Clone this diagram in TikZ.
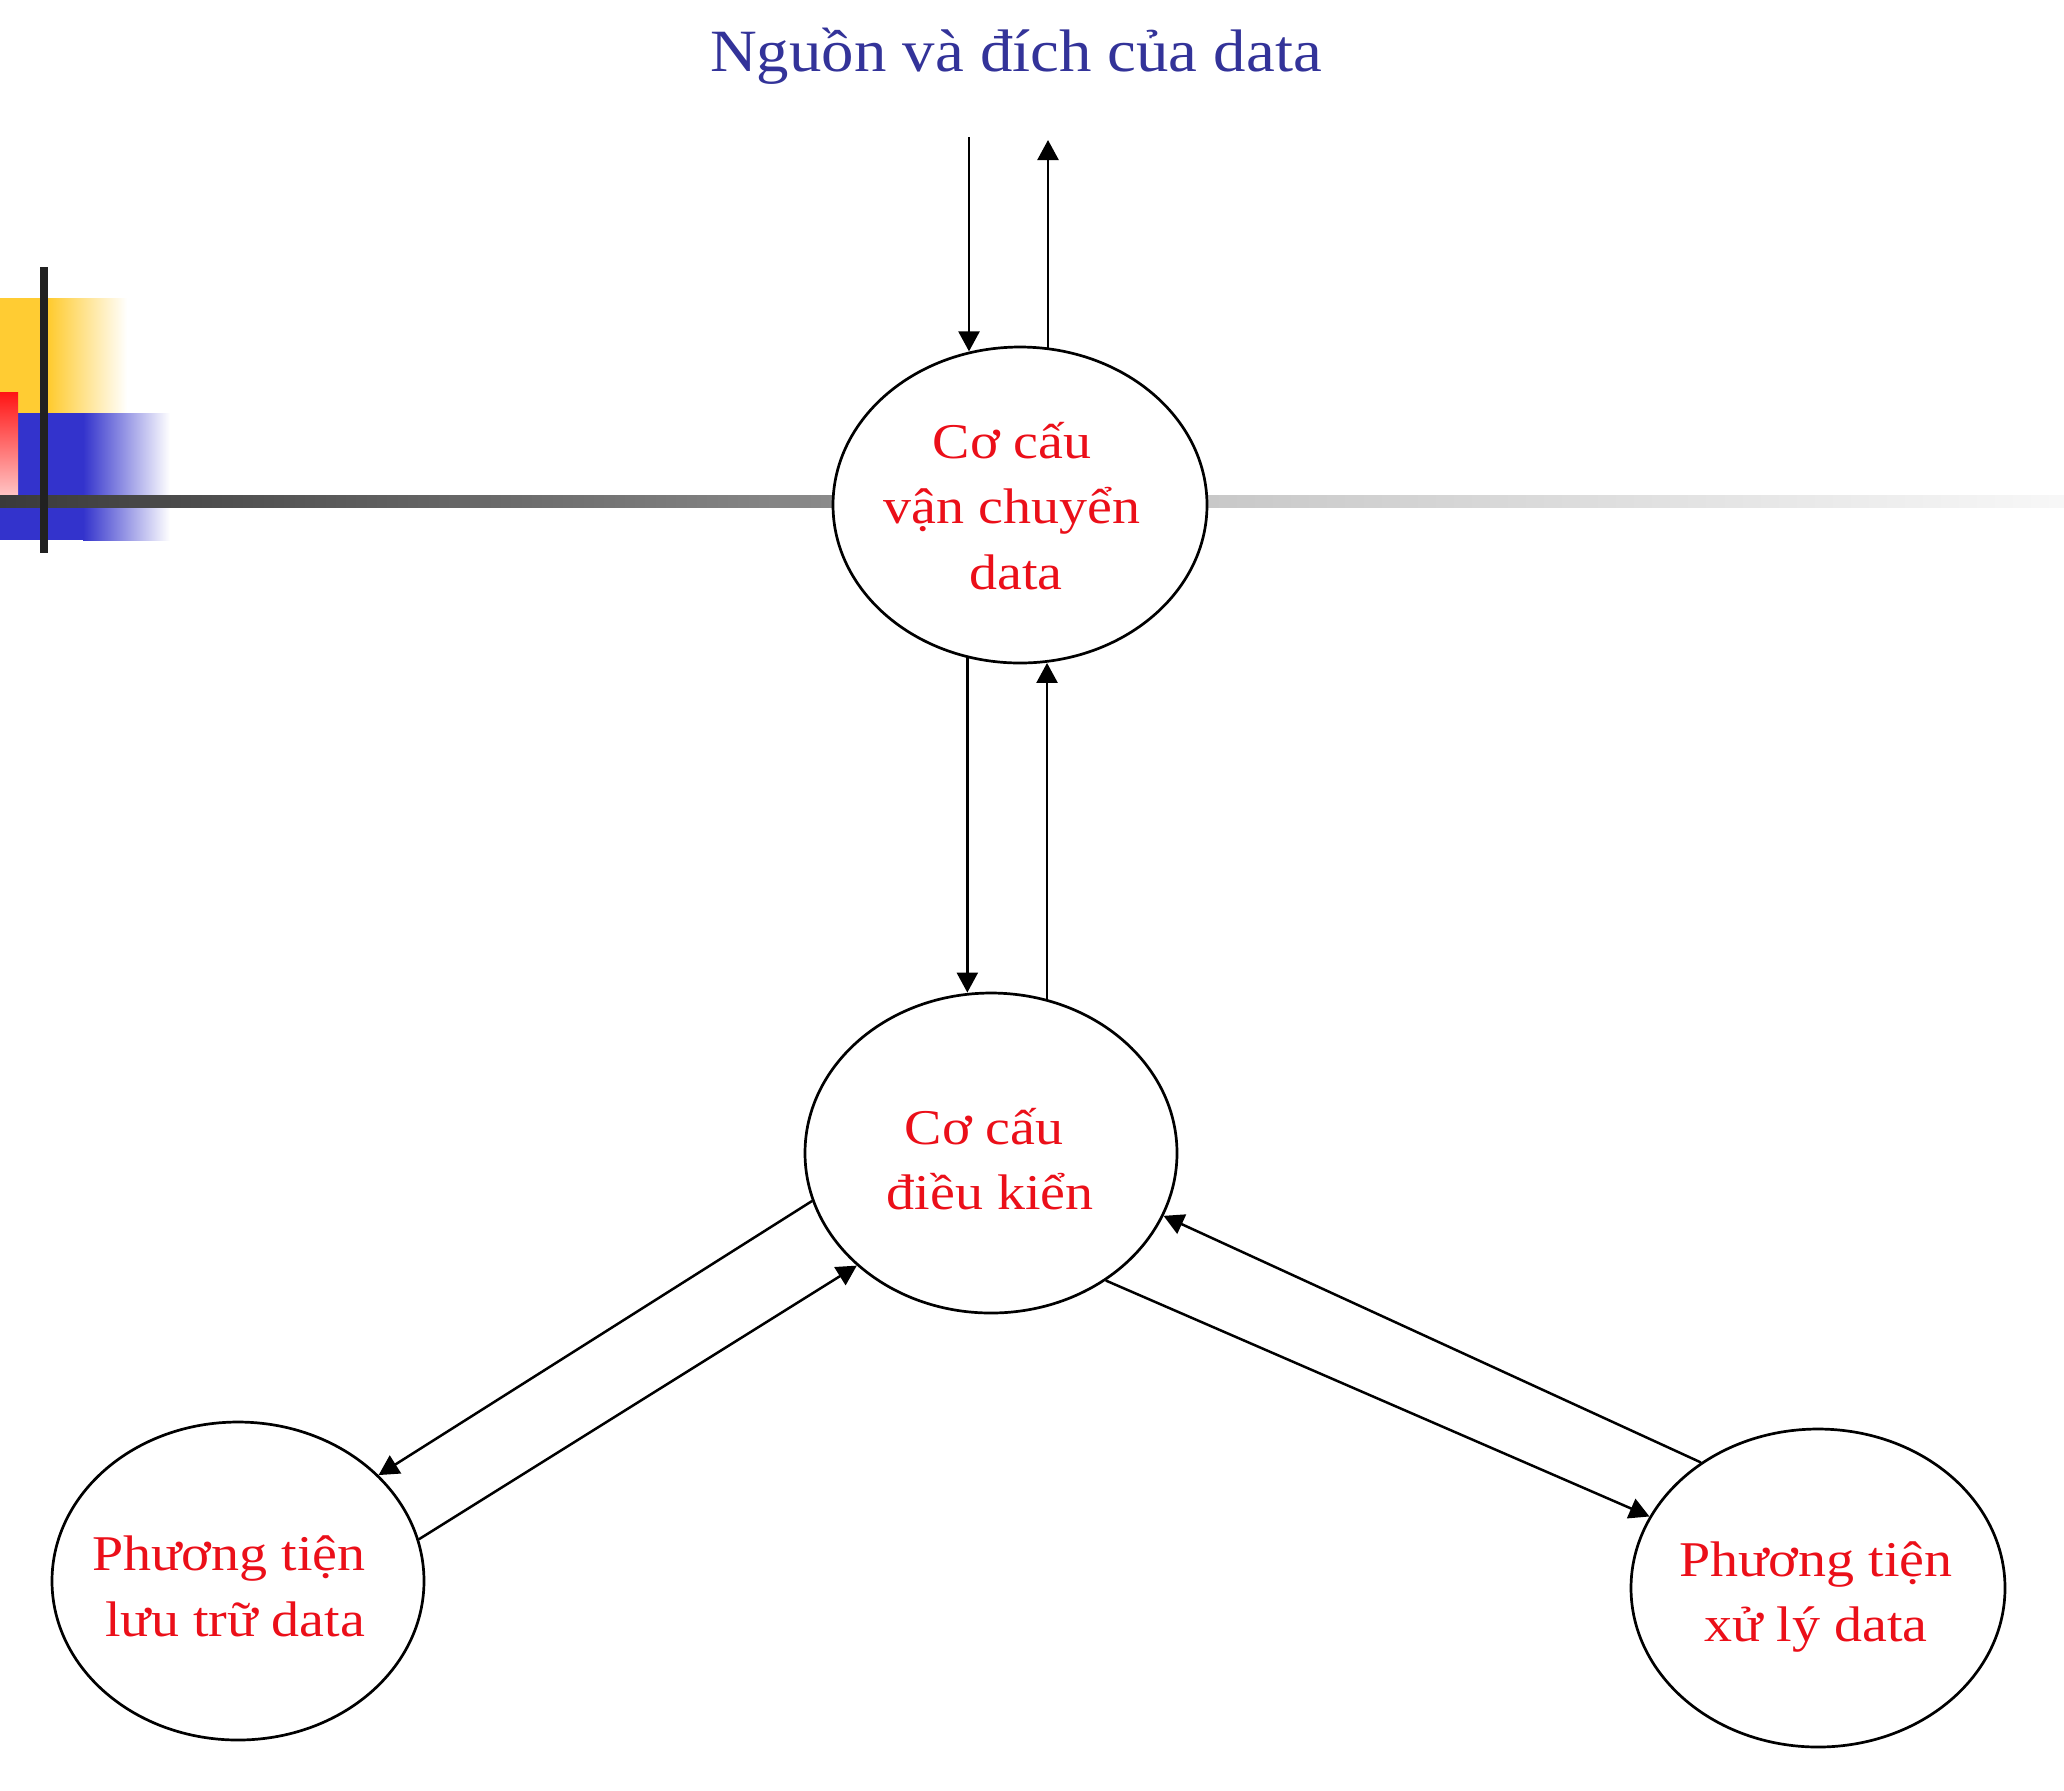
\documentclass[tikz,border=0pt]{standalone}
\usepackage{fontspec}
\setmainfont{Liberation Serif}
\newfontfamily\nodefont{Liberation Serif}[FakeStretch=1.12]
\newfontfamily\titlefont{Liberation Serif}[FakeStretch=1.08]
\usetikzlibrary{shapes.geometric,arrows.meta,calc}
\definecolor{titleblue}{RGB}{51,51,153}
\definecolor{txtred}{RGB}{235,15,25}
\definecolor{decoyellow}{RGB}{255,204,51}
\definecolor{decoblue}{RGB}{51,51,204}
\definecolor{decored}{RGB}{255,20,20}
\definecolor{barA}{RGB}{58,58,58}
\definecolor{barB}{RGB}{138,138,138}
\definecolor{barC}{RGB}{200,200,200}
\pgfdeclarehorizontalshading{barshade}{100bp}{color(0bp)=(barA); color(25bp)=(barA); color(45bp)=(barB); color(54.3bp)=(barC); color(75bp)=(white!97!black); color(100bp)=(white)}
\tikzset{
  ell/.style={ellipse, draw=black, fill=white, line width=1.35pt,
    minimum width=187pt, minimum height=159pt, inner sep=0pt},
  arr/.style={-{Triangle[length=10pt,width=10.5pt]}, line width=1.25pt},
  txt/.style={font=\nodefont\fontsize{25pt}{30pt}\selectfont, text=txtred, anchor=base, inner sep=0pt},
  ttl/.style={font=\titlefont\fontsize{30pt}{36pt}\selectfont, text=titleblue, anchor=base, inner sep=0pt}
}
\begin{document}
\begin{tikzpicture}[x=0.5pt,y=-0.5pt]
\useasboundingbox (0,0) rectangle (2064,1790);
\fill[white] (0,0) rectangle (2064,1790);
% decoration
\fill[decoyellow] (0,298) rectangle (50,413);
\shade[left color=decoyellow, right color=white] (50,298) rectangle (127,413);
\fill[decoblue] (0,413) rectangle (83,540);
\shade[left color=decoblue, right color=white] (83,413) rectangle (170,540);
\shade[top color=decored, bottom color=decored!25] (0,392) rectangle (18,495);
\shade[shading=barshade] (0,495) rectangle (2064,507);
\fill[black!87] (40,267) rectangle (48,553);
% title
\node[ttl] (title) at (1016,71) {Nguồn và đích của data};
% ellipses
\node[ell, minimum height=158pt] (T) at (1020,505) {};
\node[ell, minimum width=186pt, minimum height=160pt] (M) at (991,1153) {};
\node[ell, minimum width=186pt] (L) at (238,1581) {};
\node[ell] (R) at (1818,1588) {};
% texts
\node[txt] (t1) at (1012,458) {Cơ cấu};
\node[txt] (t2) at (1012,523) {vận chuyển};
\node[txt] (t3) at (1016,589) {data};
\node[txt] (m1) at (984,1144) {Cơ cấu};
\node[txt] (m2) at (990,1209) {điều kiển};
\node[txt] (l1) at (229,1570) {Phương tiện};
\node[txt] (l2) at (235,1636) {lưu trữ data};
\node[txt] (r1) at (1816,1576) {Phương tiện};
\node[txt] (r2) at (1816,1641) {xử lý data};
% connectors
\coordinate (in1) at (969,137);
\coordinate (out1) at (1048,140);
\draw[arr] (in1) -- (in1 |- T.108.5);
\draw[arr] (out1 |- T.79.8) -- (out1);
\draw[arr] (T.251.5) -- (T.251.5 |- M.97.9);
\draw[arr] (M.70.6) -- (M.70.6 |- T.279.1);
\draw[arr] (M.195.6) -- (L.37.6);
\draw[arr] (L.13.6) -- (M.220.7);
\draw[arr] (M.312.9) -- (R.157.8);
\draw[arr] (R.133.4) -- (M.340.4);
\end{tikzpicture}
\end{document}
